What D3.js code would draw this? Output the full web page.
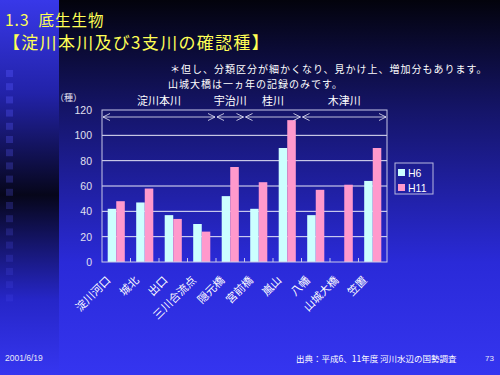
<!DOCTYPE html>
<html lang="ja">
<head>
<meta charset="UTF-8">
<title>底生生物 確認種</title>
<script src="https://d3js.org/d3.v7.min.js"></script>
<style>
  body { margin: 0; padding: 0; overflow: hidden; }
  svg { display: block; font-family: "Noto Sans CJK JP", "DejaVu Sans", sans-serif; }
</style>
</head>
<body>
<script>
// data
const sites = ["淀川河口", "城北", "出口", "三川合流点", "隠元橋", "宮前橋", "嵐山", "八幡", "山城大橋", "笠置"]
const h6  = [42, 47, 37, 30, 52, 42, 90, 37, null, 64]
const h11 = [48, 58, 34, 24, 75, 63, 112, 57, 61, 90]
const seriesNames = ["H6", "H11"]
const seriesColors = ["#ccffff", "#ff99cc"]
const yTicks = [0, 20, 40, 60, 80, 100, 120]
// river groups: first and last site index covered by each arrow
const rivers = [
  {name: "淀川本川", from: 0, to: 3},
  {name: "宇治川", from: 4, to: 4},
  {name: "桂川", from: 5, to: 6},
  {name: "木津川", from: 7, to: 9}
]

const W = 500, H = 375
const svg = d3.select("body").append("svg").attr("width", W).attr("height", H)
const defs = svg.append("defs")

// background gradients
const bg = defs.append("linearGradient").attr("id", "bg").attr("x1", 0).attr("y1", 0).attr("x2", 0).attr("y2", 1)
bg.append("stop").attr("offset", "0%").attr("stop-color", "#03030c")
bg.append("stop").attr("offset", "30%").attr("stop-color", "#15156a")
bg.append("stop").attr("offset", "70%").attr("stop-color", "#2a2ad8")
bg.append("stop").attr("offset", "100%").attr("stop-color", "#3535f0")
const strip = defs.append("linearGradient").attr("id", "strip").attr("x1", 0).attr("y1", 0).attr("x2", 0).attr("y2", 1)
strip.append("stop").attr("offset", "0%").attr("stop-color", "#3838e8")
strip.append("stop").attr("offset", "25%").attr("stop-color", "#2222a8")
strip.append("stop").attr("offset", "52%").attr("stop-color", "#06061a")
strip.append("stop").attr("offset", "80%").attr("stop-color", "#2626c8")
strip.append("stop").attr("offset", "100%").attr("stop-color", "#3636f0")

svg.append("rect").attr("width", W).attr("height", H).attr("fill", "url(#bg)")
svg.append("rect").attr("width", 59).attr("height", H).attr("fill", "url(#strip)")

// little squares down the strip
svg.append("g").selectAll("rect")
  .data(d3.range(18))
  .join("rect")
  .attr("x", 6).attr("y", i => 70 + i * 13.2)
  .attr("width", 7).attr("height", 7)
  .attr("fill", "#5a5aff")
  .attr("opacity", i => 0.35 - i * 0.012)

// titles
svg.append("text").attr("x", 5).attr("y", 26).attr("fill", "#ffff55")
  .attr("font-size", 15.5).attr("letter-spacing", 1).text("1.3\u00a0\u00a0底生生物")
svg.append("text").attr("x", 3).attr("y", 49).attr("fill", "#ffff55")
  .attr("font-size", 17).attr("letter-spacing", 1.3).text("【淀川本川及び3支川の確認種】")
svg.append("text").attr("x", 170).attr("y", 73).attr("fill", "#ffffff")
  .attr("font-size", 10).attr("letter-spacing", 1).text("＊但し、分類区分が細かくなり、見かけ上、増加分もあります。")
svg.append("text").attr("x", 168).attr("y", 88).attr("fill", "#ffffff")
  .attr("font-size", 10).attr("letter-spacing", 1).text("山城大橋は一ヵ年の記録のみです。")

// chart
const plot = {left: 102, right: 387, top: 110, bottom: 262}
const x = d3.scaleBand().domain(sites).range([plot.left, plot.right]).paddingInner(0.4).paddingOuter(0.2)
const xCat = d3.scaleBand().domain(sites).range([plot.left, plot.right])
const y = d3.scaleLinear().domain([0, 120]).range([plot.bottom, plot.top])
const xSub = d3.scaleBand().domain(seriesNames).range([0, x.bandwidth()])

const chart = svg.append("g")

// grid lines
chart.selectAll(".grid").data(yTicks.filter(d => d > 0 && d < 120)).join("line")
  .attr("x1", plot.left).attr("x2", plot.right)
  .attr("y1", d => y(d)).attr("y2", d => y(d))
  .attr("stroke", "#e8e8f8").attr("stroke-width", 1)

// bars
const rows = sites.map((s, i) => ({site: s, vals: [h6[i], h11[i]]}))
const groups = chart.selectAll(".grp").data(rows).join("g")
  .attr("transform", d => `translate(${x(d.site)},0)`)
groups.selectAll("rect")
  .data(d => d.vals.map((v, j) => ({v, j})).filter(e => e.v != null))
  .join("rect")
  .attr("x", e => xSub(seriesNames[e.j]))
  .attr("y", e => y(e.v))
  .attr("width", xSub.bandwidth())
  .attr("height", e => y(0) - y(e.v))
  .attr("fill", e => seriesColors[e.j])

// plot frame
chart.append("rect")
  .attr("x", plot.left).attr("y", plot.top)
  .attr("width", plot.right - plot.left).attr("height", plot.bottom - plot.top)
  .attr("fill", "none").attr("stroke", "#c8c8e8").attr("stroke-width", 1)

// y axis
const yAxis = chart.append("g").attr("transform", `translate(${plot.left},0)`)
  .call(d3.axisLeft(y).tickValues(yTicks).tickSize(0).tickPadding(10))
yAxis.select(".domain").remove()
yAxis.selectAll("text").attr("fill", "#e0e0f0").attr("font-size", 10.5)
  .attr("font-family", "Liberation Sans, Arial, sans-serif")

// x axis: ticks between categories, rotated labels
const xAxis = chart.append("g").attr("transform", `translate(0,${plot.bottom})`)
xAxis.selectAll("line").data(sites.slice(1)).join("line")
  .attr("x1", d => xCat(d)).attr("x2", d => xCat(d))
  .attr("y1", 0).attr("y2", -4)
  .attr("stroke", "#c8c8e8")
xAxis.selectAll("text").data(sites).join("text")
  .attr("transform", d => `translate(${xCat(d) + xCat.bandwidth() / 2 - 5},${19}) rotate(-45)`)
  .attr("text-anchor", "end")
  .attr("fill", "#ffffff").attr("font-size", 11)
  .text(d => d)

svg.append("text").attr("x", 55).attr("y", 101).attr("fill", "#e0e0f0")
  .attr("font-size", 9).text("（種）")

// river range arrows
const arrowY = 117
const rv = chart.append("g")
rivers.forEach(r => {
  const x0 = xCat(sites[r.from]) + 1
  const x1 = xCat(sites[r.to]) + xCat.bandwidth() - 1
  rv.append("line").attr("x1", x0).attr("x2", x1).attr("y1", arrowY).attr("y2", arrowY)
    .attr("stroke", "#e8e8f8").attr("stroke-width", 0.8)
  rv.append("path").attr("d", `M${x0 + 7},${arrowY - 3.5} L${x0},${arrowY} L${x0 + 7},${arrowY + 3.5}`)
    .attr("fill", "none").attr("stroke", "#e8e8f8").attr("stroke-width", 0.8)
  rv.append("path").attr("d", `M${x1 - 7},${arrowY - 3.5} L${x1},${arrowY} L${x1 - 7},${arrowY + 3.5}`)
    .attr("fill", "none").attr("stroke", "#e8e8f8").attr("stroke-width", 0.8)
  rv.append("text").attr("x", (x0 + x1) / 2).attr("y", 105)
    .attr("text-anchor", "middle").attr("fill", "#ffffff").attr("font-size", 11)
    .text(r.name)
})

// legend
const lg = svg.append("g").attr("transform", "translate(395,163)")
lg.append("rect").attr("width", 38).attr("height", 31)
  .attr("fill", "none").attr("stroke", "#b8b8e0").attr("stroke-width", 1)
seriesNames.forEach((s, i) => {
  lg.append("rect").attr("x", 3).attr("y", 6 + i * 15).attr("width", 7).attr("height", 7)
    .attr("fill", seriesColors[i])
  lg.append("text").attr("x", 13).attr("y", 13.5 + i * 15).attr("fill", "#ffffff")
    .attr("font-size", 10.5).attr("font-family", "Liberation Sans, Arial, sans-serif").text(s)
})

// footer
svg.append("text").attr("x", 5).attr("y", 361).attr("fill", "#e8e8f8")
  .attr("font-size", 8.5).attr("font-family", "Liberation Sans, Arial, sans-serif").text("2001/6/19")
svg.append("text").attr("x", 296).attr("y", 362).attr("fill", "#ffffff")
  .attr("font-size", 8.5).text("出典：平成6、11年度 河川水辺の国勢調査")
svg.append("text").attr("x", 485).attr("y", 361).attr("fill", "#e8e8f8")
  .attr("font-size", 8).attr("font-family", "Liberation Sans, Arial, sans-serif").text("73")
</script>
</body>
</html>
